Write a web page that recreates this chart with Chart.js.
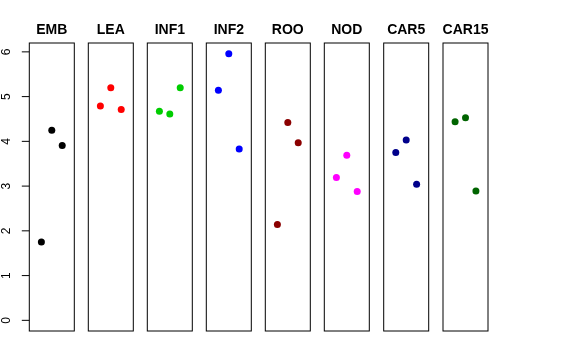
<!DOCTYPE html>
<html>
<head>
<meta charset="utf-8">
<script src="https://cdn.jsdelivr.net/npm/chart.js@4.4.1/dist/chart.umd.min.js"></script>
<style>
  html, body { margin: 0; padding: 0; background: #fff; }
  #wrap { position: relative; width: 576px; height: 360px; }
  #wrap canvas { position: absolute; left: 0; top: 0; }
</style>
</head>
<body>
<div id="wrap"></div>
<script>
// ---- data ----
const categories = ["EMB", "LEA", "INF1", "INF2", "ROO", "NOD", "CAR5", "CAR15"];
const positions = [1, 2, 3];
const valuesEMB   = [1.75, 4.25, 3.91];
const valuesLEA   = [4.79, 5.20, 4.71];
const valuesINF1  = [4.67, 4.61, 5.20];
const valuesINF2  = [5.14, 5.96, 3.83];
const valuesROO   = [2.14, 4.42, 3.97];
const valuesNOD   = [3.19, 3.69, 2.88];
const valuesCAR5  = [3.75, 4.03, 3.04];
const valuesCAR15 = [4.44, 4.53, 2.89];
const yTickLabels = ["0", "1", "2", "3", "4", "5", "6"];
const colors = ["#000000", "#FF0000", "#00CD00", "#0000FF", "#8B0000", "#FF00FF", "#00008B", "#006400"];

const seriesValues = [valuesEMB, valuesLEA, valuesINF1, valuesINF2, valuesROO, valuesNOD, valuesCAR5, valuesCAR15];

// ---- layout ----
const W = 576, H = 360;
const panelLefts = [29.3, 88.3, 147.3, 206.3, 265.3, 324.3, 383.7, 443];
const panelWidth = 45;
const plotTop = 43, plotBottom = 331;

const yMin = -0.2384, yMax = 6.198;
const xMin = -0.16, xMax = 4.16;

const panelPlugin = {
  id: 'panelDeco',
  afterDraw(chart, args, opts) {
    const ctx = chart.ctx;
    const a = chart.chartArea;
    ctx.save();
    // box
    ctx.strokeStyle = '#000';
    ctx.lineWidth = 1;
    ctx.strokeRect(a.left, a.top, a.right - a.left, a.bottom - a.top);
    // title
    ctx.fillStyle = '#000';
    ctx.font = 'bold 14px "Liberation Sans", Arial, sans-serif';
    ctx.textAlign = 'center';
    ctx.textBaseline = 'alphabetic';
    ctx.fillText(opts.title, (a.left + a.right) / 2, 34.3);
    // y axis for first panel
    if (opts.axis) {
      const ys = chart.scales.y;
      ctx.font = '12px "Liberation Sans", Arial, sans-serif';
      yTickLabels.forEach(lbl => {
        const v = parseFloat(lbl);
        const py = ys.getPixelForValue(v);
        ctx.beginPath();
        ctx.moveTo(a.left - 7.5, py);
        ctx.lineTo(a.left, py);
        ctx.stroke();
        ctx.save();
        ctx.translate(10, py);
        ctx.rotate(-Math.PI / 2);
        ctx.textAlign = 'center';
        ctx.textBaseline = 'alphabetic';
        ctx.fillText(lbl, 0, 0);
        ctx.restore();
      });
    }
    ctx.restore();
  }
};

const wrap = document.getElementById('wrap');
categories.forEach((cat, i) => {
  const cv = document.createElement('canvas');
  cv.width = W; cv.height = H;
  cv.style.width = W + 'px'; cv.style.height = H + 'px';
  wrap.appendChild(cv);
  const L = panelLefts[i];
  new Chart(cv, {
    type: 'scatter',
    data: {
      datasets: [{
        data: positions.map((p, k) => ({ x: p, y: seriesValues[i][k] })),
        backgroundColor: colors[i],
        borderWidth: 0,
        pointRadius: 3.5,
        pointHoverRadius: 3.5
      }]
    },
    options: {
      responsive: false,
      animation: false,
      events: [],
      layout: { padding: { left: L, right: W - L - panelWidth, top: plotTop, bottom: H - plotBottom } },
      plugins: {
        legend: { display: false },
        tooltip: { enabled: false },
        title: { display: false },
        panelDeco: { title: cat, axis: i === 0 }
      },
      scales: {
        x: { type: 'linear', min: xMin, max: xMax, display: false },
        y: { type: 'linear', min: yMin, max: yMax, display: false }
      }
    },
    plugins: [panelPlugin]
  });
});
</script>
</body>
</html>
